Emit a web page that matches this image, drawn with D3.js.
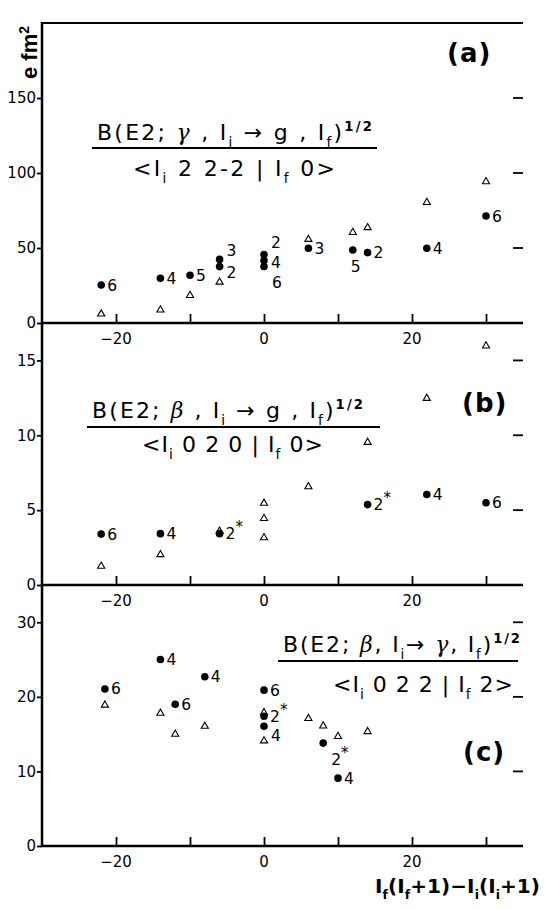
<!DOCTYPE html>
<html><head><meta charset="utf-8">
<script src="https://cdn.jsdelivr.net/npm/d3@7"></script>
<style>body{margin:0;background:#fff}</style>
</head><body><svg id="c" width="546" height="909"></svg>
<script>
// ---------- data ----------
const xTickValues = [-20, -10, 0, 10, 20, 30];
const xTickLabelValues = [-20, 0, 20];
const aYTicks = [0, 50, 100, 150];
const bYTicks = [0, 5, 10, 15];
const cYTicks = [0, 10, 20, 30];
const aRightTicks = [50, 100, 150];
const bRightTicks = [5, 10, 15];
const cRightTicks = [10, 20, 30];

const aFilledX = [-22, -14, -10, -6, -6, 0, 0, 0, 6, 12, 14, 22, 30];
const aFilledY = [25.3, 29.8, 31.8, 42.4, 37.6, 45.7, 41.7, 37.7, 49.8, 48.7, 46.9, 49.8, 71.3];
const aFilledLabel = ["6", "4", "5", "3", "2", "2", "4", "6", "3", "5", "2", "4", "6"];
const aFilledLabelPos = ["r", "r", "r", "ru", "rd", "ruu", "rdl", "br", "r", "b", "r", "r", "r"];
const aOpenX = [-22, -14, -10, -6, 6, 12, 14, 22, 30];
const aOpenY = [6.0, 8.7, 18.4, 27.3, 55.8, 60.4, 63.6, 80.4, 94.2];

const bFilledX = [-22, -14, -6, 14, 22, 30];
const bFilledY = [3.4, 3.43, 3.43, 5.37, 6.04, 5.49];
const bFilledLabel = ["6", "4", "2*", "2*", "4", "6"];
const bFilledLabelPos = ["r", "r", "r", "r", "r", "r"];
const bOpenX = [-22, -14, -6, 0, 0, 0, 6, 14, 22, 30];
const bOpenY = [1.26, 2.03, 3.6, 3.16, 4.45, 5.46, 6.57, 9.53, 12.47, 15.97];

const cFilledX = [-21.5, -14, -12, -8, 0, 0, 0, 8, 10];
const cFilledY = [21.06, 25.0, 19.0, 22.7, 20.9, 17.4, 16.06, 13.8, 9.1];
const cFilledLabel = ["6", "4", "6", "4", "6", "2*", "4", "2*", "4"];
const cFilledLabelPos = ["r", "r", "r", "r", "r", "r", "rdd", "br", "r"];
const cOpenX = [-21.5, -14, -12, -8, 0, 0, 6, 8, 10, 14];
const cOpenY = [18.9, 17.8, 15.0, 16.06, 14.1, 17.9, 17.1, 16.1, 14.7, 15.35];

// formula texts: [text, kind]
const aNum = [["B(E2; ","n"],["γ","g"],[" , I","n"],["i","sub"],[" → g , I","n"],["f","sub"],[")","n"],["1/2","sup"]];
const aDen = [["<I","n"],["i","sub"],[" 2 2-2 | I","n"],["f","sub"],[" 0>","n"]];
const bNum = [["B(E2; ","n"],["β","g"],[" , I","n"],["i","sub"],[" → g , I","n"],["f","sub"],[")","n"],["1/2","sup"]];
const bDen = [["<I","n"],["i","sub"],[" 0 2 0 | I","n"],["f","sub"],[" 0>","n"]];
const cNum = [["B(E2; ","n"],["β","g"],[", I","n"],["i","sub"],["→ ","n"],["γ","g"],[", I","n"],["f","sub"],[")","n"],["1/2","sup"]];
const cDen = [["<I","n"],["i","sub"],[" 0 2 2 | I","n"],["f","sub"],[" 2>","n"]];
const xTitle = [["I","n"],["f","sub"],["(I","n"],["f","sub"],["+1)−I","n"],["i","sub"],["(I","n"],["i","sub"],["+1)","n"]];

// ---------- drawing ----------
const svg = d3.select("#c");
const x = d3.scaleLinear().domain([-30, 35]).range([42, 523]);
const FONT = "'DejaVu Sans', sans-serif";

const panels = [
  {dom:[0,200], rng:[323,23], yt:aYTicks, rt:aRightTicks, fx:aFilledX, fy:aFilledY, fl:aFilledLabel, fp:aFilledLabelPos, ox:aOpenX, oy:aOpenY},
  {dom:[0,17.5], rng:[585,323], yt:bYTicks, rt:bRightTicks, fx:bFilledX, fy:bFilledY, fl:bFilledLabel, fp:bFilledLabelPos, ox:bOpenX, oy:bOpenY},
  {dom:[0,35], rng:[846,585], yt:cYTicks, rt:cRightTicks, fx:cFilledX, fy:cFilledY, fl:cFilledLabel, fp:cFilledLabelPos, ox:cOpenX, oy:cOpenY}
];

const off = {r:[6,5.5], ru:[7,-3], ruu:[7,-6], rdl:[7,7.5], rd:[7,11], rdd:[7,15], br:[8,22], b:[-2,22]};

svg.append("line").attr("x1",42).attr("x2",523).attr("y1",23).attr("y2",23)
  .attr("stroke","#000").attr("stroke-width",2);
svg.append("line").attr("x1",42).attr("x2",42).attr("y1",22).attr("y2",847)
  .attr("stroke","#000").attr("stroke-width",2.5);

panels.forEach(p => {
  const y = d3.scaleLinear().domain(p.dom).range(p.rng);
  const g = svg.append("g");
  const y0 = y(0);
  const ax = g.append("g").attr("transform",`translate(0,${y0})`)
    .call(d3.axisTop(x).tickValues(xTickValues).tickSize(9).tickFormat(""));
  ax.select(".domain").attr("d",`M42,0H523`).attr("stroke-width",2.5);
  ax.selectAll(".tick line").attr("stroke-width",1.8);
  g.selectAll(".xl").data(xTickLabelValues).join("text")
    .attr("x", d => x(d)).attr("y", y0 + 21)
    .attr("text-anchor","middle").attr("font-family",FONT).attr("font-size",15)
    .text(d => d < 0 ? "−" + Math.abs(d) : d);
  const ay = g.append("g").attr("transform","translate(42,0)")
    .call(d3.axisLeft(y).tickValues(p.yt).tickSize(5).tickPadding(1));
  ay.select(".domain").remove();
  ay.selectAll(".tick line").attr("stroke-width",1.8);
  ay.selectAll("text").attr("font-family",FONT).attr("font-size",15);
  g.selectAll(".rt").data(p.rt).join("line")
    .attr("x1",513).attr("x2",523).attr("y1",d=>y(d)).attr("y2",d=>y(d))
    .attr("stroke","#000").attr("stroke-width",1.8);
  const tri = d3.symbol().type(d3.symbolTriangle).size(22);
  g.selectAll(".tri").data(p.ox.map((v,i)=>[v,p.oy[i]])).join("path")
    .attr("d", tri).attr("transform", d => `translate(${x(d[0])},${y(d[1])})`)
    .attr("fill","#fff").attr("stroke","#000").attr("stroke-width",1.1);
  const pts = p.fx.map((v,i)=>({x:v, y:p.fy[i], l:p.fl[i], pos:p.fp[i]}));
  g.selectAll(".dot").data(pts).join("circle")
    .attr("cx", d=>x(d.x)).attr("cy", d=>y(d.y)).attr("r",3.8).attr("fill","#000");
  pts.forEach(d => {
    const o = off[d.pos];
    const t = g.append("text").attr("x", x(d.x)+o[0]).attr("y", y(d.y)+o[1])
      .attr("font-family",FONT).attr("font-size",15.5);
    if (d.l.endsWith("*")) {
      t.append("tspan").text(d.l.slice(0,-1));
      t.append("tspan").attr("dy",-7).attr("font-size",15).text("*");
    } else t.text(d.l);
  });
});

function rich(segs, x0, yb, len, size, weight) {
  const t = svg.append("text").attr("x", x0).attr("y", yb)
    .attr("font-family", FONT).attr("font-size", size).attr("font-weight", weight || "normal")
    .attr("textLength", len).attr("lengthAdjust","spacing")
    .style("white-space","pre");
  let cur = 0;
  segs.forEach(([s,k]) => {
    let target = 0, fs = size, fam = null;
    if (k === "sub") { target = size*0.3; fs = size*0.62; }
    if (k === "sup") { target = -size*0.42; fs = size*0.6; }
    if (k === "g") { fam = "'DejaVu Serif', serif"; }
    const ts = t.append("tspan").attr("dy", target - cur).attr("font-size", fs).text(s);
    if (fam) ts.attr("font-family", fam).attr("font-style", "italic").attr("font-weight","normal");
    if (k === "sup") ts.attr("font-weight","bold");
    cur = target;
  });
  return t;
}
function hline(x1,x2,yy){ svg.append("line").attr("x1",x1).attr("x2",x2).attr("y1",yy).attr("y2",yy).attr("stroke","#000").attr("stroke-width",2); }

rich(aNum, 97, 140, 275, 22);
hline(92, 377, 148);
rich(aDen, 133, 176, 202, 22);

rich(bNum, 92, 418, 271, 22);
hline(87, 380, 427);
rich(bDen, 142, 452, 181, 22);

rich(cNum, 283, 652, 237, 22);
hline(278, 518, 661);
rich(cDen, 333, 692, 180, 22);

rich(xTitle, 375, 893, 165, 20, "bold");

[["(a)",447,62],["(b)",462,412],["(c)",463,761]].forEach(([s,xx,yy]) => {
  svg.append("text").attr("x",xx).attr("y",yy).attr("font-family",FONT)
    .attr("font-weight","bold").attr("font-size",26).attr("letter-spacing",1).text(s);
});

const yt = svg.append("text").attr("transform","translate(37,79) rotate(-90)")
  .attr("font-family","'Liberation Sans', Arial, sans-serif").attr("font-weight","bold").attr("font-size",22);
yt.append("tspan").text("e fm");
yt.append("tspan").attr("dy",-8).attr("font-size",14).text("2");
</script>
</body></html>
